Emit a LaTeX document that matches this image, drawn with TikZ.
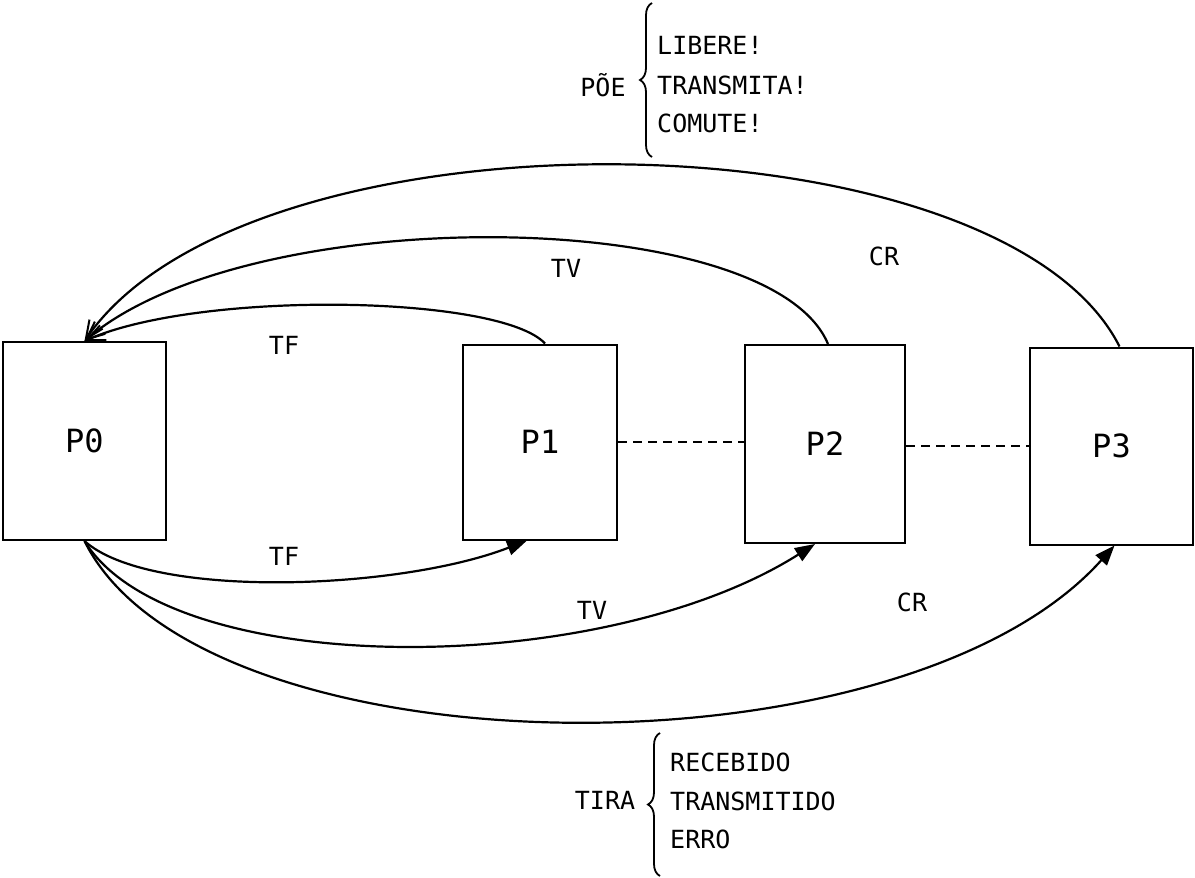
\documentclass[tikz,border=0pt]{standalone}
\usepackage{fontspec}
\setmonofont{DejaVu Sans Mono}
\usetikzlibrary{arrows.meta,decorations.pathreplacing}
\tikzset{
  proc/.style={draw, line width=2pt, inner sep=0pt, font=\ttfamily\fontsize{32}{36}\selectfont},
  lbl/.style={font=\ttfamily\fontsize{25}{30}\selectfont, inner sep=0pt},
  lst/.style={font=\ttfamily\fontsize{25}{30}\selectfont, inner sep=0pt, anchor=west},
  arc/.style={line width=2.2pt},
  topar/.style={arc, -{Straight Barb[length=18pt,width=16pt,line width=2pt]}},
  botar/.style={arc, -{Triangle[length=20pt,width=15pt]}},
  dsh/.style={line width=1.6pt, dash pattern=on 9pt off 6pt},
  brc/.style={line width=1.8pt, decorate, decoration={brace, amplitude=12pt}}
}
\begin{document}
\begin{tikzpicture}[x=1pt,y=-1pt]
\useasboundingbox (0,0) rectangle (1195,878);
% boxes
\node[proc, minimum width=163pt, minimum height=198pt] (p0) at (84.5,441) {P0};
\node[proc, minimum width=154pt, minimum height=195pt] (p1) at (540,442) {P1};
\node[proc, minimum width=160pt, minimum height=198pt] (p2) at (825,444) {P2};
\node[proc, minimum width=163pt, minimum height=197pt] (p3) at (1111.5,446) {P3};
% dashed links
\draw[dsh] (p1.east) -- (p2.west |- p1.east);
\draw[dsh] (p2.east |- p3.west) -- (p3.west);
% top arcs to P0
\draw[topar] ([xshift=5pt]p1.north) .. controls (500,295) and (200,290) .. (p0.north);
\draw[topar] ([xshift=3pt]p2.north) .. controls (770,205) and (250,200) .. (p0.north);
\draw[topar] ([xshift=8pt]p3.north) .. controls (1000,110) and (250,100) .. (p0.north);
% bottom arcs from P0
\draw[botar] (p0.south) .. controls (150,600) and (400,590) .. ([xshift=-13pt]p1.south);
\draw[botar] (p0.south) .. controls (170,680) and (600,680) .. ([xshift=-10pt]p2.south);
\draw[botar] (p0.south) .. controls (200,775) and (900,785) .. ([xshift=3pt]p3.south);
% arc labels
\node[lbl] (ltf1) at (284,345) {TF};
\node[lbl] (ltv1) at (566,268) {TV};
\node[lbl] (lcr1) at (884,256) {CR};
\node[lbl] (ltf2) at (284,556) {TF};
\node[lbl] (ltv2) at (592,610) {TV};
\node[lbl] (lcr2) at (912,602) {CR};
% top brace
\node[lbl] (poe) at (603,85) {PÕE};
\draw[brc] (652,157) -- (652,3);
\node[lst] (l1) at (657,45) {LIBERE!};
\node[lst] (l2) at (657,85) {TRANSMITA!};
\node[lst] (l3) at (657,123) {COMUTE!};
% bottom brace
\node[lbl] (tira) at (605,800) {TIRA};
\draw[brc] (660,876) -- (660,733);
\node[lst] (r1) at (670,762) {RECEBIDO};
\node[lst] (r2) at (670,801) {TRANSMITIDO};
\node[lst] (r3) at (670,839) {ERRO};
\end{tikzpicture}
\end{document}
